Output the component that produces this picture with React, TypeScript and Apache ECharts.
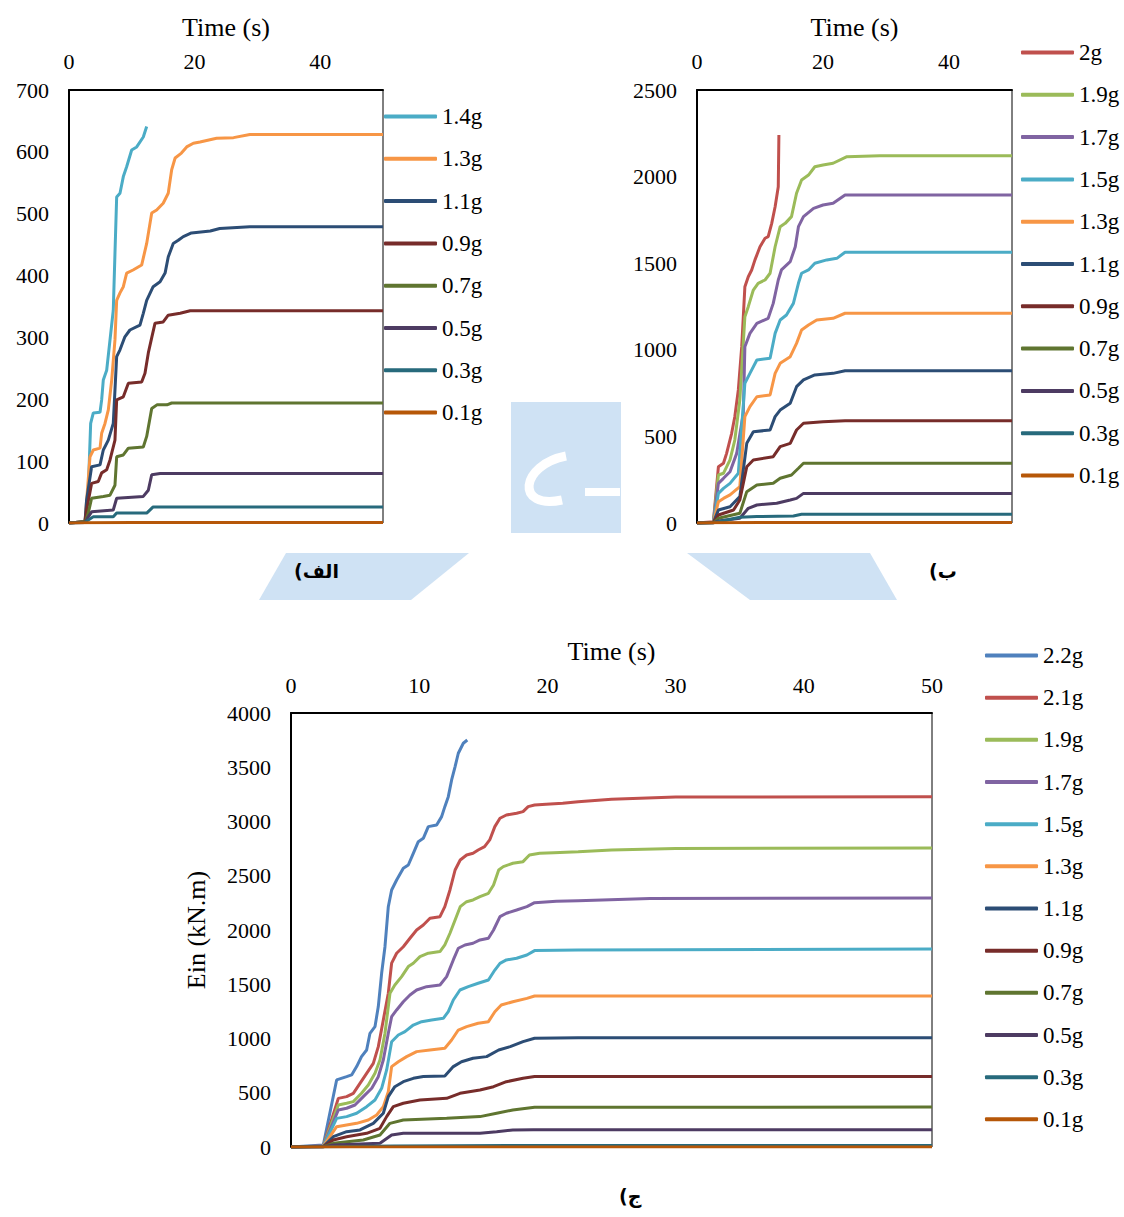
import React, { useEffect, useRef } from "react";
import * as echarts from "echarts";

// ---------- Colors per acceleration level ----------
const COLORS: Record<string, string> = {
  "2.2g": "#4f81bd",
  "2.1g": "#c0504d",
  "2g": "#c0504d",
  "1.9g": "#9bbb59",
  "1.7g": "#8064a2",
  "1.5g": "#4bacc6",
  "1.4g": "#4bacc6",
  "1.3g": "#f79646",
  "1.1g": "#2c4d75",
  "0.9g": "#772c2a",
  "0.7g": "#5f7530",
  "0.5g": "#4d3b62",
  "0.3g": "#276a7c",
  "0.1g": "#b65708",
};

// ---------- Chart (الف) : [time (s), Ein] ----------
const A_NAMES = ["1.4g", "1.3g", "1.1g", "0.9g", "0.7g", "0.5g", "0.3g", "0.1g"];
const A_1_4g = [[0,0],[2.55,2],[3.07,53],[3.45,161],[3.87,178],[4.94,179],[5.2,199],[5.46,231],[6.0,247],[6.53,296],[7.05,344],[7.32,436],[7.59,527],[8.12,533],[8.65,560],[9.18,576],[9.98,603],[10.78,608],[11.83,624],[12.37,641]];
const A_1_3g = [[0,0],[2.55,2],[3.34,107],[3.87,118],[4.94,121],[5.2,145],[5.73,161],[6.26,183],[6.8,231],[7.32,296],[7.59,360],[8.12,372],[8.65,382],[9.18,404],[10.2,409],[11.57,417],[12.37,452],[13.17,501],[13.96,506],[15.0,517],[15.8,533],[16.35,571],[16.9,590],[17.9,598],[18.74,608],[19.8,614],[20.86,616],[23.5,622],[26.2,623],[28.8,628],[50,628]];
const A_1_1g = [[0,0],[2.55,2],[2.8,37],[3.6,91],[4.94,94],[5.46,118],[6.26,134],[7.05,161],[7.59,269],[8.12,280],[8.9,301],[9.7,312],[11.3,320],[11.83,339],[12.37,360],[13.4,382],[14.5,390],[15.3,404],[15.8,430],[16.6,452],[17.4,457],[18.2,463],[19.5,469],[22.5,472],[24,476],[28.8,479],[50,479]];
const A_0_9g = [[0,0],[2.55,2],[2.8,21],[3.6,64],[4.66,67],[5.2,81],[6.0,86],[6.53,102],[7.32,134],[7.59,199],[8.65,204],[9.45,226],[11.57,228],[12.1,242],[12.63,275],[13.2,301],[13.7,323],[15.0,325],[15.8,336],[17.7,339],[19.3,343],[50,343]];
const A_0_7g = [[0,0],[2.6,2],[3.07,16],[3.6,40],[5.46,43],[6.53,45],[7.32,61],[7.59,107],[8.65,110],[9.45,121],[11.83,123],[12.37,140],[13.17,185],[14.0,191],[15.6,191],[16.35,194],[50,194]];
const A_0_5g = [[0,0],[2.6,1],[3.07,10],[3.6,18],[7.05,21],[7.59,40],[11.83,43],[12.63,53],[13.17,78],[14.5,80],[50,80]];
const A_0_3g = [[0,0],[2.6,1],[3.07,5],[3.87,10],[7.05,10],[7.59,16],[12.37,16],[13.4,26],[50,26]];
const A_0_1g = [[0,0],[3,0.5],[10,1],[50,1]];
const A_DATA = [A_1_4g, A_1_3g, A_1_1g, A_0_9g, A_0_7g, A_0_5g, A_0_3g, A_0_1g];

// ---------- Chart (ب) ----------
const B_NAMES = ["2g", "1.9g", "1.7g", "1.5g", "1.3g", "1.1g", "0.9g", "0.7g", "0.5g", "0.3g", "0.1g"];
const B_2g = [[0,0],[2.6,7],[3.4,325],[4.2,345],[4.7,402],[5.5,518],[6.0,614],[6.56,768],[7.1,1018],[7.6,1364],[8.14,1422],[8.68,1461],[9.2,1519],[10,1595],[10.8,1644],[11.3,1653],[11.86,1730],[12.4,1826],[12.9,1942],[13.0,2240]];
const B_1_9g = [[0,0],[2.6,5],[3.4,277],[4.2,287],[5.24,364],[6.0,479],[6.8,710],[7.6,1191],[8.14,1249],[8.94,1345],[9.7,1384],[10.8,1403],[11.6,1442],[12.4,1595],[13.2,1711],[14.0,1730],[15.0,1769],[15.8,1904],[16.6,1980],[17.7,2009],[18.7,2057],[20,2067],[21.6,2077],[23.8,2115],[29,2121],[50,2121]];
const B_1_7g = [[0,0],[2.6,4],[3.4,229],[4.2,258],[5.24,296],[6.3,402],[7.35,633],[7.6,1018],[8.4,1095],[9.5,1153],[11.3,1182],[12.1,1268],[12.9,1403],[13.4,1461],[14.8,1509],[15.6,1595],[16.1,1711],[16.9,1769],[18.5,1817],[20,1836],[21.6,1846],[23.5,1894],[50,1894]];
const B_1_5g = [[0,0],[2.6,3],[3.4,171],[4.2,200],[5.24,229],[6.56,287],[7.6,807],[8.4,864],[9.5,941],[11.6,951],[12.4,1095],[13.2,1172],[14.2,1201],[15.3,1268],[16.1,1384],[16.6,1442],[17.7,1461],[18.7,1500],[20.6,1519],[22.2,1528],[23.5,1563],[50,1563]];
const B_1_3g = [[0,0],[2.6,3],[3.4,123],[4.2,142],[5.24,162],[6.8,210],[7.6,614],[8.4,672],[9.5,729],[11.6,739],[12.4,864],[13.2,922],[14.8,960],[15.8,1037],[16.6,1114],[17.7,1143],[19,1172],[21.6,1182],[23.5,1211],[50,1211]];
const B_1_1g = [[0,0],[2.6,2],[3.4,75],[5.24,94],[6.8,152],[7.9,460],[8.94,527],[11.6,537],[12.4,614],[13.2,652],[14.8,691],[15.8,787],[16.9,826],[18.7,855],[21.6,864],[23.5,879],[50,879]];
const B_0_9g = [[0,0],[2.6,2],[3.4,46],[5.8,75],[6.8,133],[7.9,325],[8.94,364],[12.1,383],[13.2,441],[14.8,460],[15.8,537],[16.9,576],[20,585],[23.5,591],[50,591]];
const B_0_7g = [[0,0],[2.6,1],[3.4,27],[6.8,56],[7.9,181],[9.5,219],[12.1,229],[13.2,258],[15.0,277],[16.1,316],[16.9,345],[50,345]];
const B_0_5g = [[0,0],[2.6,1],[3.4,12],[6.8,27],[8.14,85],[9.5,104],[12.65,114],[14.8,133],[15.8,142],[16.9,171],[50,171]];
const B_0_3g = [[0,0],[2.6,1],[3.4,7],[6.8,33],[9.5,37],[15.3,40],[16.6,50],[50,50]];
const B_0_1g = [[0,0],[3,1],[10,3],[50,3]];
const B_DATA = [B_2g, B_1_9g, B_1_7g, B_1_5g, B_1_3g, B_1_1g, B_0_9g, B_0_7g, B_0_5g, B_0_3g, B_0_1g];

// ---------- Chart (ج) ----------
const C_NAMES = ["2.2g", "2.1g", "1.9g", "1.7g", "1.5g", "1.3g", "1.1g", "0.9g", "0.7g", "0.5g", "0.3g", "0.1g"];
const C_2_2g = [[0,0],[2.52,18],[3.56,618],[4.34,648],[4.73,664],[5.12,741],[5.5,833],[5.9,894],[6.16,1048],[6.55,1109],[6.81,1294],[7.07,1601],[7.33,1846],[7.59,2215],[7.85,2369],[8.24,2461],[8.76,2569],[9.15,2599],[9.54,2707],[9.93,2814],[10.32,2845],[10.71,2953],[11.36,2968],[11.75,3045],[12.0,3137],[12.27,3229],[12.53,3383],[12.8,3506],[13.05,3629],[13.44,3721],[13.75,3751]];
const C_2_1g = [[0,0],[2.52,10],[3.69,448],[4.34,464],[4.86,495],[5.38,587],[5.9,679],[6.42,771],[6.81,925],[7.2,1171],[7.59,1417],[7.85,1694],[8.24,1786],[8.76,1846],[9.28,1924],[9.8,2000],[10.32,2046],[10.84,2108],[11.62,2123],[12.0,2215],[12.4,2369],[12.8,2553],[13.2,2645],[13.7,2691],[14.2,2707],[14.6,2737],[15.1,2768],[15.5,2830],[15.9,2953],[16.3,3030],[16.8,3060],[17.6,3076],[18.1,3091],[18.5,3137],[19.0,3152],[19.9,3159],[21.2,3168],[22.4,3183],[25,3205],[30,3225],[50,3228]];
const C_1_9g = [[0,0],[2.52,8],[3.69,387],[4.34,403],[4.86,418],[5.5,495],[6.03,571],[6.55,679],[6.94,802],[7.33,1048],[7.72,1417],[8.1,1493],[8.63,1570],[9.15,1663],[9.54,1694],[10.06,1755],[10.71,1786],[11.62,1801],[12.0,1862],[12.4,1970],[12.8,2092],[13.2,2215],[13.7,2261],[14.2,2277],[14.74,2307],[15.4,2338],[15.8,2415],[16.2,2553],[16.56,2584],[17.3,2615],[18.1,2630],[18.6,2691],[19.4,2707],[20.5,2713],[22.4,2722],[25,2738],[30,2752],[50,2756]];
const C_1_7g = [[0,0],[2.52,7],[3.69,341],[4.34,357],[4.99,387],[5.64,464],[6.3,541],[6.81,648],[7.2,802],[7.59,1048],[7.85,1201],[8.24,1263],[8.76,1339],[9.28,1401],[9.8,1447],[10.58,1478],[11.62,1493],[12.14,1570],[12.66,1724],[13.05,1832],[13.57,1862],[14.2,1878],[14.74,1908],[15.4,1924],[15.8,2000],[16.3,2123],[16.8,2154],[17.6,2184],[18.4,2215],[19.0,2252],[20.7,2264],[22.4,2270],[28,2290],[50,2295]];
const C_1_5g = [[0,0],[2.52,6],[3.56,264],[4.34,280],[5.12,311],[5.9,372],[6.55,433],[7.07,541],[7.46,710],[7.85,970],[8.37,1032],[8.89,1063],[9.54,1124],[10.19,1155],[10.97,1171],[11.88,1186],[12.27,1247],[12.66,1355],[13.18,1447],[13.83,1478],[14.6,1509],[15.4,1539],[15.9,1631],[16.3,1693],[16.8,1724],[17.6,1740],[18.4,1770],[19.0,1810],[22.4,1816],[50,1825]];
const C_1_3g = [[0,0],[2.52,5],[3.56,187],[4.34,203],[5.12,218],[6.03,249],[6.68,295],[7.2,372],[7.59,510],[7.85,741],[8.37,786],[9.02,833],[9.8,879],[10.84,894],[12.0,910],[12.53,986],[13.05,1078],[13.7,1109],[14.6,1140],[15.4,1155],[15.9,1247],[16.4,1309],[17.3,1339],[18.4,1370],[19.0,1392],[50,1392]];
const C_1_1g = [[0,0],[2.52,4],[3.3,95],[4.34,141],[5.38,157],[6.42,218],[7.2,311],[7.59,464],[8.1,556],[8.76,602],[9.54,633],[10.32,649],[12.0,654],[12.66,741],[13.3,786],[14.2,818],[15.26,833],[16.2,894],[17.1,925],[18.1,971],[19.0,1002],[22.4,1008],[50,1008]];
const C_0_9g = [[0,0],[2.52,3],[3.3,65],[4.34,95],[5.9,126],[6.94,172],[7.46,280],[7.98,372],[8.76,403],[10.06,433],[12.14,449],[13.18,495],[14.74,525],[15.8,556],[16.8,602],[18.1,633],[19.0,649],[50,649]];
const C_0_7g = [[0,0],[2.52,2],[3.3,34],[5.64,65],[6.94,111],[7.72,218],[8.76,249],[12.14,264],[14.74,280],[16.04,311],[17.3,341],[19.0,366],[50,368]];
const C_0_5g = [[0,0],[2.52,1],[3.3,18],[6.94,34],[7.85,111],[8.76,126],[14.74,126],[16.04,141],[17.3,157],[18.9,160],[50,160]];
const C_0_3g = [[0,0],[3,2],[8,10],[17,14],[50,14]];
const C_0_1g = [[0,0],[3,1],[50,1]];
const C_DATA = [C_2_2g, C_2_1g, C_1_9g, C_1_7g, C_1_5g, C_1_3g, C_1_1g, C_0_9g, C_0_7g, C_0_5g, C_0_3g, C_0_1g];

// ---------- Axis settings ----------
const X_MAX = 50;
const A_Y_MAX = 700, A_Y_STEP = 100, A_X_STEP = 20;
const B_Y_MAX = 2500, B_Y_STEP = 500, B_X_STEP = 20;
const C_Y_MAX = 4000, C_Y_STEP = 500, C_X_STEP = 10;

const SERIF = "'Liberation Serif', 'Times New Roman', serif";
const WM = "#cfe2f4";
const TICK_FS = 22;
const LEGEND_FS = 23;
const NAME_FS = 26;

function buildSeries(names: string[], datas: number[][][], idx: number) {
  return names.map((n, i) => ({
    name: n,
    type: "line",
    xAxisIndex: idx,
    yAxisIndex: idx,
    data: datas[i],
    symbol: "none",
    showSymbol: false,
    smooth: false,
    z: 3,
    lineStyle: { width: 3, color: COLORS[n] },
    itemStyle: { color: COLORS[n] },
  }));
}

function xAxisCfg(idx: number, step: number, margin: number, gap: number, showMax: boolean) {
  return {
    type: "value",
    gridIndex: idx,
    position: "top",
    min: 0,
    max: X_MAX,
    interval: step,
    name: "Time (s)",
    nameLocation: "middle",
    nameGap: gap,
    nameTextStyle: { fontFamily: SERIF, fontSize: NAME_FS, color: "#000" },
    axisLine: { show: true, onZero: false, lineStyle: { color: "#000", width: 2 } },
    axisTick: { show: false },
    splitLine: { show: false },
    axisLabel: { fontFamily: SERIF, fontSize: TICK_FS, color: "#000", margin, showMaxLabel: showMax },
  };
}

function yAxisCfg(idx: number, max: number, step: number, extra: any = {}) {
  return {
    type: "value",
    gridIndex: idx,
    min: 0,
    max,
    interval: step,
    axisLine: { show: true, onZero: false, lineStyle: { color: "#000", width: 2 } },
    axisTick: { show: false },
    splitLine: { show: false },
    axisLabel: {
      fontFamily: SERIF,
      fontSize: TICK_FS,
      color: "#000",
      margin: 20,
      formatter: (v: number) => String(v),
    },
    ...extra,
  };
}

function legendCfg(names: string[], left: number, firstCenter: number, pitch: number) {
  const rowH = 22;
  return {
    orient: "vertical",
    left,
    top: firstCenter - rowH / 2 - 1,
    padding: 0,
    icon: "roundRect",
    itemWidth: 53,
    itemHeight: 4,
    itemGap: pitch - rowH - 1.1,
    selectedMode: false,
    data: names,
    textStyle: { fontFamily: SERIF, fontSize: LEGEND_FS, color: "#000", lineHeight: rowH },
  };
}

export default function App() {
  const ref = useRef<HTMLDivElement>(null);

  useEffect(() => {
    if (!ref.current) return;
    const chart = echarts.init(ref.current, undefined, { renderer: "svg" });
    const option: any = {
      animation: false,
      backgroundColor: "#fff",
      textStyle: { fontFamily: SERIF },
      grid: [
        { left: 69, top: 90, width: 314, height: 433, show: true, borderColor: "#000", borderWidth: 1, backgroundColor: "transparent" },
        { left: 697, top: 90, width: 315, height: 433, show: true, borderColor: "#000", borderWidth: 1, backgroundColor: "transparent" },
        { left: 291, top: 713, width: 641, height: 434, show: true, borderColor: "#000", borderWidth: 1, backgroundColor: "transparent" },
      ],
      xAxis: [
        xAxisCfg(0, A_X_STEP, 18, 50, false),
        xAxisCfg(1, B_X_STEP, 18, 50, false),
        xAxisCfg(2, C_X_STEP, 17, 49, true),
      ],
      yAxis: [
        yAxisCfg(0, A_Y_MAX, A_Y_STEP),
        yAxisCfg(1, B_Y_MAX, B_Y_STEP),
        yAxisCfg(2, C_Y_MAX, C_Y_STEP, {
          name: "Ein (kN.m)",
          nameLocation: "middle",
          nameGap: 82,
          nameRotate: 90,
          nameTextStyle: { fontFamily: SERIF, fontSize: NAME_FS, color: "#000" },
        }),
      ],
      legend: [
        legendCfg(A_NAMES, 384, 117, 42.4),
        legendCfg(B_NAMES, 1021, 53, 42.4),
        legendCfg(C_NAMES, 985, 656, 42.27),
      ],
      graphic: [
        // watermark
        { type: "rect", z: 0, silent: true, shape: { x: 511, y: 402, width: 110, height: 131 }, style: { fill: WM } },
        { type: "bezierCurve", z: 0, silent: true, shape: { x1: 566, y1: 456, cpx1: 520, cpy1: 465, cpx2: 515, cpy2: 510, x2: 562, y2: 500 }, style: { stroke: "#fff", lineWidth: 9, fill: null } },
        { type: "line", z: 0, silent: true, shape: { x1: 585, y1: 492, x2: 620, y2: 492 }, style: { stroke: "#fff", lineWidth: 8 } },
        { type: "polygon", z: 0, silent: true, shape: { points: [[286, 553], [469, 553], [411, 600], [259, 600]] }, style: { fill: WM } },
        { type: "polygon", z: 0, silent: true, shape: { points: [[687, 553], [870, 553], [897, 600], [750, 600]] }, style: { fill: WM } },
        // sub-figure labels
        { type: "text", z: 5, left: 294, top: 561, style: { text: "(الف", fontFamily: "'DejaVu Sans', sans-serif", fontWeight: "bold", fontSize: 19, fill: "#000" } },
        { type: "text", z: 5, left: 929, top: 561, style: { text: "(ب", fontFamily: "'DejaVu Sans', sans-serif", fontWeight: "bold", fontSize: 19, fill: "#000" } },
        { type: "text", z: 5, left: 619, top: 1186, style: { text: "(ج", fontFamily: "'DejaVu Sans', sans-serif", fontWeight: "bold", fontSize: 19, fill: "#000" } },
      ],
      series: [
        ...buildSeries(A_NAMES, A_DATA, 0),
        ...buildSeries(B_NAMES, B_DATA, 1),
        ...buildSeries(C_NAMES, C_DATA, 2),
      ],
    };
    chart.setOption(option);
    return () => chart.dispose();
  }, []);

  return (
    <div
      ref={ref}
      style={{ position: "absolute", left: 0, top: 0, width: 1124, height: 1217, background: "#fff" }}
    />
  );
}
